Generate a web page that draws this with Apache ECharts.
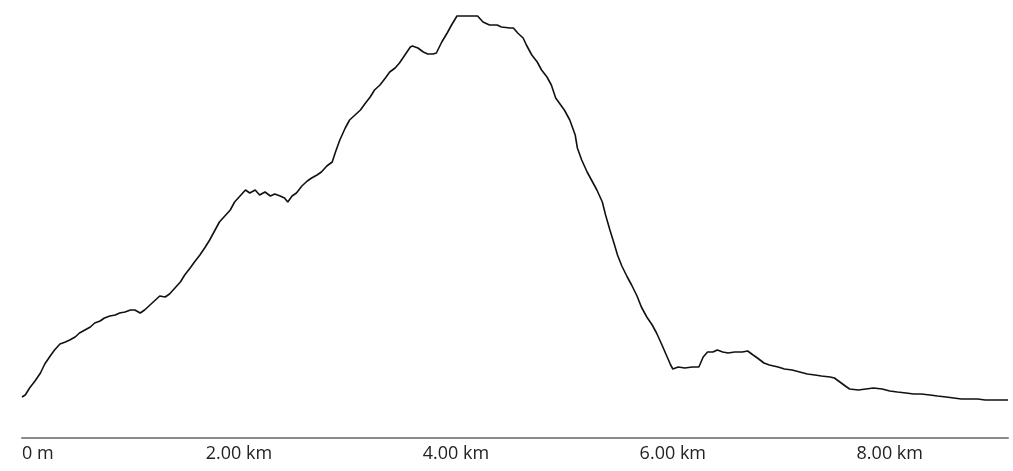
<!DOCTYPE html>
<html>
<head>
<meta charset="utf-8">
<script src="https://cdn.jsdelivr.net/npm/echarts@6/dist/echarts.min.js"></script>
<style>html,body{margin:0;padding:0;background:#fff}#c{width:1013px;height:471px}</style>
</head>
<body>
<div id="c"></div>
<script>
const distanceKm = [0,0.03,0.07,0.12,0.17,0.21,0.26,0.30,0.35,0.40,0.44,0.49,0.53,0.58,0.63,0.67,0.72,0.76,0.81,0.86,0.90,0.95,1.00,1.04,1.09,1.13,1.18,1.23,1.27,1.32,1.36,1.41,1.46,1.50,1.55,1.59,1.64,1.69,1.73,1.78,1.82,1.87,1.92,1.96,2.01,2.06,2.10,2.15,2.19,2.24,2.29,2.33,2.38,2.42,2.45,2.49,2.53,2.58,2.63,2.67,2.72,2.76,2.81,2.86,2.89,2.93,2.98,3.02,3.07,3.12,3.16,3.21,3.25,3.30,3.35,3.39,3.44,3.48,3.53,3.58,3.60,3.65,3.70,3.74,3.79,3.82,3.87,3.92,3.96,4.01,4.06,4.13,4.20,4.25,4.31,4.38,4.42,4.50,4.53,4.57,4.62,4.65,4.70,4.75,4.79,4.84,4.88,4.92,4.96,5.00,5.05,5.10,5.12,5.16,5.21,5.25,5.30,5.35,5.38,5.42,5.46,5.49,5.53,5.58,5.62,5.67,5.71,5.76,5.81,5.85,5.90,5.94,5.98,6.00,6.05,6.11,6.18,6.24,6.28,6.32,6.37,6.41,6.46,6.51,6.57,6.64,6.69,6.74,6.78,6.84,6.89,6.97,7.03,7.10,7.17,7.24,7.31,7.37,7.45,7.49,7.54,7.59,7.63,7.71,7.78,7.85,7.93,8.00,8.07,8.15,8.22,8.29,8.37,8.44,8.52,8.59,8.66,8.74,8.81,8.88,8.97,9.09];
const elevationM = [382,386,400,414,430,448,464,476,488,492,496,502,510,516,522,530,534,540,544,546,550,552,556,556,550,556,566,576,584,582,588,600,612,626,640,652,666,682,696,716,732,744,756,772,784,796,790,796,786,792,784,788,784,780,772,784,790,804,814,820,826,832,844,852,872,896,920,936,946,956,968,982,996,1006,1020,1032,1040,1050,1066,1082,1084,1080,1072,1068,1068,1070,1092,1110,1126,1144,1144,1144,1144,1132,1126,1126,1122,1120,1120,1110,1100,1086,1066,1052,1036,1022,1006,980,968,956,936,906,880,856,832,816,796,772,746,716,688,666,644,622,606,584,562,542,526,510,486,466,446,438,442,440,442,442,462,472,472,476,472,470,472,472,474,466,460,450,446,442,438,436,432,428,426,424,422,420,412,404,398,396,398,400,398,394,392,390,388,388,386,384,382,380,378,378,378,376,376,376];
const xTicks = [0, 2, 4, 6, 8];

const data = distanceKm.map((d, i) => [d, elevationM[i]]);
const chart = echarts.init(document.getElementById('c'));
chart.setOption({
  animation: false,
  grid: {left: 22, right: 5, top: 0, bottom: 33},
  xAxis: {
    type: 'value', min: 0, max: 9.09, interval: 2,
    splitLine: {show: false},
    axisTick: {show: false},
    axisLine: {show: true, lineStyle: {color: '#8a8a8a', width: 2}},
    axisLabel: {
      showMaxLabel: false,
      alignMinLabel: 'left',
      margin: 7,
      color: '#222',
      fontSize: 18,
      fontFamily: '"Open Sans", sans-serif',
      formatter: v => xTicks.includes(v) ? (v === 0 ? '0 m' : v.toFixed(2) + ' km') : ''
    }
  },
  yAxis: {type: 'value', min: 300, max: 1176, show: false, splitLine: {show: false}},
  series: [{
    type: 'line', data: data, showSymbol: false, symbol: 'none',
    lineStyle: {color: '#111', width: 1.6}
  }]
});
</script>
</body>
</html>
